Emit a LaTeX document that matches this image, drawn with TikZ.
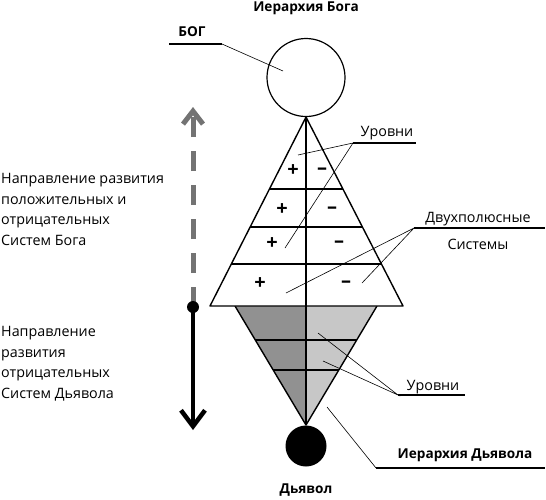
\documentclass[tikz,border=0pt]{standalone}
\usepackage{fontspec}
\setmainfont{Open Sans}
\usetikzlibrary{arrows.meta,calc,positioning}
\tikzset{
  basic/.style   = {inner sep=0pt, font=\fontsize{14.3}{20.6}\selectfont},
  heading/.style = {inner sep=0pt, font=\fontsize{13.6}{15}\selectfont\bfseries},
  sign/.style    = {inner sep=0pt, font=\fontsize{20}{20}\selectfont\bfseries},
  leader/.style  = {line width=0.6pt},
  uline/.style   = {line width=2pt},
  rim/.style     = {line width=1.4pt, line join=round},
  tier/.style    = {line width=2pt},
  dot/.style     = {circle, fill=black, inner sep=0pt, minimum size=12pt}
}
\begin{document}
\begin{tikzpicture}[x=1pt,y=-1pt]
  \useasboundingbox (0,0) rectangle (546,499);

  % God above, Devil below
  \node[draw, circle, line width=1.2pt, minimum size=78pt, inner sep=0pt] (bog) at (306,77.5) {};
  \node[circle, fill=black, minimum size=41pt, inner sep=0pt] (devil) at (306,446) {};

  % corners of the two triangles
  \coordinate (top) at (bog.south);
  \coordinate (ul) at (210,306);
  \coordinate (ur) at (403,306);
  \coordinate (ll) at (235,306);
  \coordinate (lr) at (377,306);
  \coordinate (mid) at (306,306);
  \coordinate (bot) at (306,425);

  % lower triangle, two grey halves
  \fill[black!43] (ll) -- (mid) -- (bot) -- cycle;
  \fill[black!22] (mid) -- (lr) -- (bot) -- cycle;
  \draw[rim] (ll) -- (bot) -- (lr);
  \foreach \t in {0.286,0.538}
    \draw[tier] ($(ll)!\t!(bot)$) -- ($(lr)!\t!(bot)$);

  % upper triangle and its levels
  \draw[rim, fill=white] (top) -- (ul) -- (ur) -- cycle;
  \foreach \t in {0.381,0.582,0.778}
    \draw[tier] ($(top)!\t!(ul)$) -- ($(top)!\t!(ur)$);

  % middle axis
  \draw[line width=1.2pt] (top) -- (bot);

  % plus and minus of each level
  \foreach \i/\xp/\xm/\y in {1/293/322/171, 2/282/332/210, 3/272/339/244, 4/260/346/284} {
    \node[sign] (p\i) at (\xp,\y) {+};
    \node[sign] (m\i) at (\xm,\y) {--};
  }

  % the two arrows on the left
  \coordinate (hinge) at (193,307);
  \coordinate (uptip) at (193,107);
  \coordinate (downtip) at (193,430);
  \draw[black!55, line width=5pt, dash pattern=on 20pt off 14pt,
        -{Straight Barb[length=13pt,width=20pt]}] (hinge) -- (uptip);
  \draw[line width=4.5pt, -{Straight Barb[length=16pt,width=24pt]}] (hinge) -- (downtip);
  \node[dot] (hdot) at (hinge) {};

  % texts on the left
  \node[basic, anchor=north west, align=left] (tup) at (1,173)
    {Направление развития\\положительных и\\отрицательных\\Систем Бога};
  \node[basic, anchor=north west, align=left] (tdown) at (1,326)
    {Направление\\развития\\отрицательных\\Систем Дьявола};

  % titles
  \node[heading] (tgod) at (306,8) {Иерархия Бога};
  \node[heading] (tdevil) at (306,490) {Дьявол};

  % label of God
  \node[heading] (tbog) at (192,32) {БОГ};
  \coordinate (bogl) at (169,44);
  \coordinate (bogr) at (222,44);
  \draw[uline] (bogl) -- (bogr);
  \draw[leader] (bogr) -- ($(bog.center)+(-23,-6.5)$);

  % levels, upper triangle
  \node[basic] (tlev1) at (387,133) {Уровни};
  \coordinate (lev1) at (353,143);
  \coordinate (lev1r) at (416,143);
  \draw[uline] (lev1) -- (lev1r);
  \coordinate (lev1a) at (298,155);
  \coordinate (lev1b) at (285,248);
  \draw[leader] (lev1a) -- (lev1) -- (lev1b);

  % bipolar systems
  \node[basic] (tsys1) at (478,219) {Двухполюсные};
  \node[basic] (tsys2) at (478,244) {Системы};
  \coordinate (sys) at (414,228);
  \coordinate (sysr) at (545,228);
  \draw[uline] (sys) -- (sysr);
  \coordinate (sysa) at (286,293);
  \coordinate (sysb) at (362,283);
  \draw[leader] (sysa) -- (sys) -- (sysb);

  % levels, lower triangle
  \node[basic] (tlev2) at (433,387) {Уровни};
  \coordinate (lev2) at (398,395);
  \coordinate (lev2r) at (465,395);
  \draw[uline] (lev2) -- (lev2r);
  \coordinate (lev2a) at (318,333);
  \coordinate (lev2b) at (323,361);
  \draw[leader] (lev2a) -- (lev2) -- (lev2b);

  % hierarchy of the Devil
  \node[heading] (thier) at (465,455) {Иерархия Дьявола};
  \coordinate (hier) at (376,468);
  \coordinate (hierr) at (545,468);
  \draw[uline, line width=2.4pt] (hier) -- (hierr);
  \coordinate (hiera) at (327,407);
  \draw[leader] (hier) -- (hiera);
\end{tikzpicture}
\end{document}
